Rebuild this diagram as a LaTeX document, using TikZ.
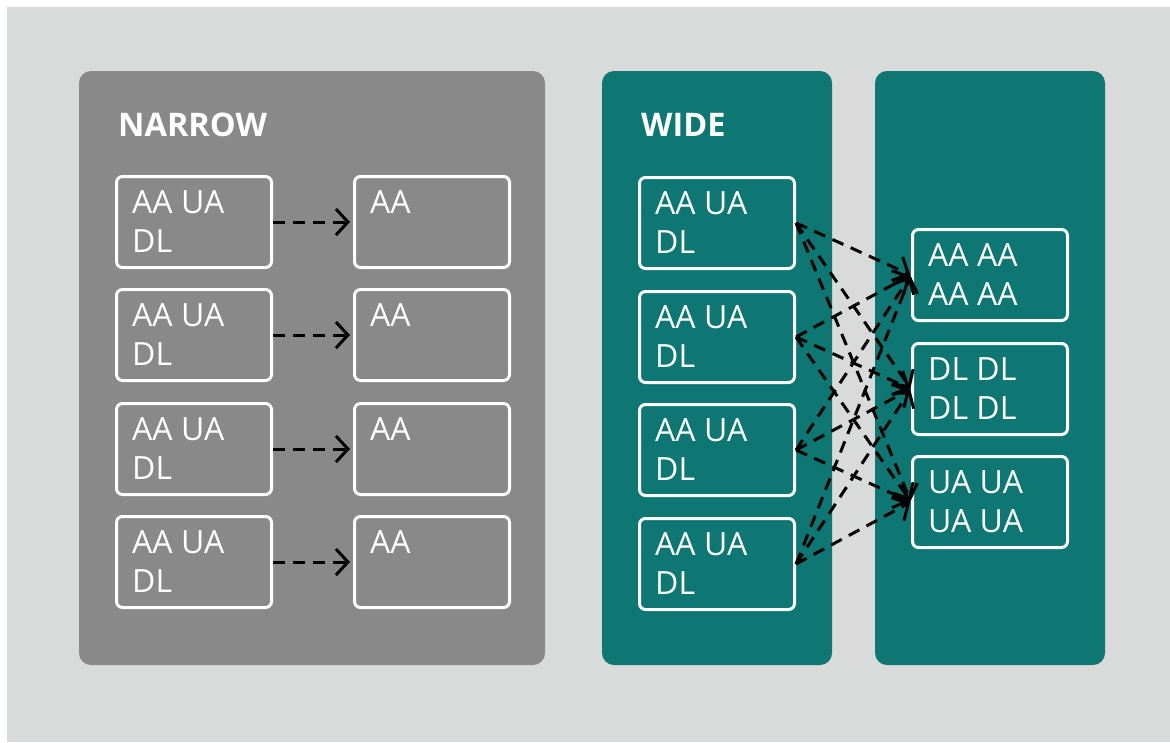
\documentclass[tikz,border=0pt]{standalone}
\usepackage{fontspec}
\setmainfont{Open Sans}
\usetikzlibrary{arrows.meta,calc}
\definecolor{bgcol}{HTML}{D9DADA}
\definecolor{narrowgray}{HTML}{898989}
\definecolor{tealpanel}{HTML}{0E7673}
\begin{document}
\begin{tikzpicture}[x=1pt,y=-1pt,
  panel/.style={rounded corners=12pt},
  box/.style={draw=white, line width=3pt, rounded corners=6pt, minimum width=155pt, minimum height=91pt, inner sep=0pt, anchor=north west},
  txt/.style={anchor=base west, inner sep=0pt, text=white, font=\fontsize{32}{39}\selectfont},
  ttl/.style={anchor=base west, inner sep=0pt, text=white, font=\bfseries\fontsize{32.5}{33}\selectfont},
  arr/.style={draw=black, line width=3pt, dash pattern=on 12pt off 8pt, -{Straight Barb[length=12pt,width=26pt]}}]
\useasboundingbox (0,0) rectangle (1170,742);
\fill[white] (0,0) rectangle (1170,742);
\fill[bgcol] (7,7) rectangle (1170,742);
% panels
\fill[narrowgray, panel] (79,71) rectangle (545,665);
\fill[tealpanel, panel] (602,71) rectangle (832,665);
\fill[tealpanel, panel] (875,71) rectangle (1105,665);
% titles
\node[ttl] (tnarrow) at (118,136) {NARROW};
\node[ttl] (twide) at (641,136) {WIDE};
% narrow boxes
\foreach \i/\y in {1/175,2/288,3/402,4/515}{
  \node[box] (n\i) at (115,\y) {};
  \node[txt] (nt\i) at ($(n\i.north west)+(17,38)$) {\parbox[t]{140pt}{AA UA\\DL}};
  \node[box] (a\i) at (353,\y) {};
  \node[txt] (at\i) at ($(a\i.north west)+(17,38)$) {AA};
  \draw[arr, shorten >=3pt] (n\i.east) -- (a\i.west);
}
% wide boxes
\foreach \i/\y in {1/176,2/290,3/403,4/517}{
  \node[box] (w\i) at (638,\y) {};
  \node[txt] (wt\i) at ($(w\i.north west)+(17,38)$) {\parbox[t]{140pt}{AA UA\\DL}};
}
% right boxes
\node[box] (r1) at (911,228) {};
\node[txt] (rt1) at ($(r1.north west)+(17,38)$) {\parbox[t]{140pt}{AA AA\\AA AA}};
\node[box] (r2) at (911,342) {};
\node[txt] (rt2) at ($(r2.north west)+(17,38)$) {\parbox[t]{140pt}{DL DL\\DL DL}};
\node[box] (r3) at (911,455) {};
\node[txt] (rt3) at ($(r3.north west)+(17,38)$) {\parbox[t]{140pt}{UA UA\\UA UA}};
% wide connections
\foreach \i in {1,2,3,4}{
  \foreach \j in {1,2,3}{
    \draw[arr, shorten >=1pt] (w\i.east) -- (r\j.west);
  }
}
\end{tikzpicture}
\end{document}
